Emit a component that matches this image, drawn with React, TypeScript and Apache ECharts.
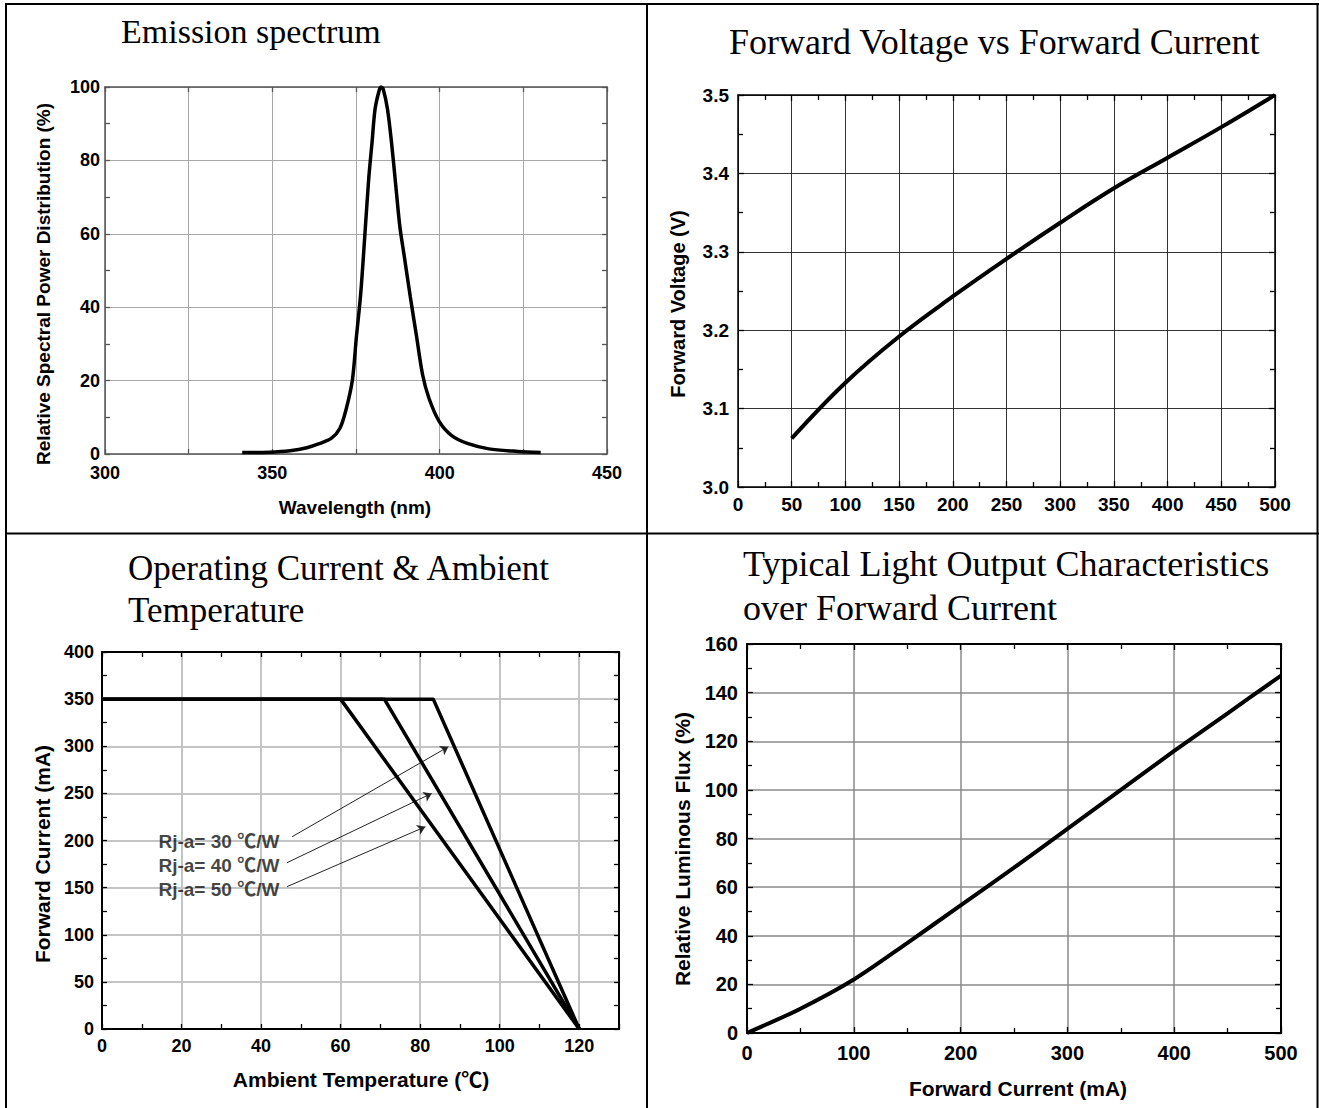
import React, { useEffect, useRef } from "react";
import * as echarts from "echarts";

const SANS = "'Liberation Sans', Arial, 'Noto Sans CJK SC', sans-serif";
const SERIF = "'Liberation Serif', 'Times New Roman', serif";

// ---- Chart 1: Emission spectrum ----
const wavelengthNm = [341, 349.1, 355.3, 360.3, 364, 367.7, 370.2, 372, 373.9, 375.1, 376.4, 377.6, 378.8, 379.8, 380.7, 381.9, 382.5, 383.1, 384.4, 385.6, 386.9, 388.1, 389.4, 391.2, 393.1, 394.9, 396.8, 399.9, 403.6, 408.5, 414.7, 423.4, 430.2];
const relativePower = [0.4, 0.5, 0.9, 1.7, 2.8, 4.3, 7, 12, 20, 31.7, 43.6, 59, 75, 85, 94, 99, 100, 99.5, 94, 85, 73, 62, 54, 43, 32, 21.6, 15.2, 8.8, 5, 2.8, 1.4, 0.7, 0.4];

// ---- Chart 2: Forward voltage vs forward current ----
const fvCurrentMa = [50, 100, 150, 200, 250, 300, 350, 400, 450, 500];
const forwardVoltage = [3.062, 3.133, 3.192, 3.243, 3.291, 3.337, 3.381, 3.42, 3.459, 3.5];

// ---- Chart 3: Operating current & ambient temperature ----
const deratingLabels = ["Rj-a= 30 \u2103/W", "Rj-a= 40 \u2103/W", "Rj-a= 50 \u2103/W"];
const deratingKneeTemp = [83.3, 71, 60];
const deratingMaxCurrent = 350;
const deratingZeroTemp = 120;
const labelAnchors = [[14.2, 198.7], [14.2, 174], [14.2, 148.5]];
const arrowStart = [[47.8, 204], [46.5, 176.4], [46.5, 151]];
const arrowEnd = [[87.1, 299.5], [82.9, 250], [81.3, 214.6]];

// ---- Chart 4: Relative luminous flux ----
const fluxCurrentMa = [0, 50, 100, 150, 200, 250, 300, 350, 400, 450, 500];
const relativeFlux = [0, 10, 22, 37, 52.5, 68, 84, 100, 116, 131.5, 147];

type AxisCfg = {
  grid: number;
  pos: string;
  min: number;
  max: number;
  interval: number;
  minor?: number;
  labels: boolean;
  fmt?: (v: number) => string;
  labelSize?: number;
  margin?: number;
  frame: string;
  frameW: number;
  split?: { color: any; width: number };
  tickLen: number;
  minorLen?: number;
};

function axis(c: AxisCfg): any {
  const a: any = {
    type: "value",
    gridIndex: c.grid,
    position: c.pos,
    min: c.min,
    max: c.max,
    interval: c.interval,
    axisLine: { show: true, onZero: false, lineStyle: { color: c.frame, width: c.frameW } },
    axisTick: { show: true, inside: true, length: c.tickLen, lineStyle: { color: c.frame, width: 1.3 } },
    minorTick: c.minor
      ? { show: true, splitNumber: c.minor, length: c.minorLen ?? 3, lineStyle: { color: c.frame, width: 1.3 } }
      : { show: false },
    minorSplitLine: { show: false },
    splitLine: c.split ? { show: true, lineStyle: { color: c.split.color, width: c.split.width } } : { show: false },
    axisPointer: { show: false },
  };
  if (c.labels) {
    a.axisLabel = {
      show: true,
      margin: c.margin ?? 8,
      fontSize: c.labelSize ?? 18,
      fontWeight: "bold",
      fontFamily: SANS,
      color: "#000",
      hideOverlap: false,
    };
    if (c.fmt) a.axisLabel.formatter = c.fmt;
  } else {
    a.axisLabel = { show: false };
  }
  return a;
}

function pair(base: AxisCfg, mirrorPos: string): any[] {
  return [
    axis(base),
    axis({ ...base, pos: mirrorPos, labels: false, split: undefined }),
  ];
}

export default function App() {
  const ref = useRef<HTMLDivElement>(null);

  useEffect(() => {
    document.body.style.margin = "0";
    const chart = echarts.init(ref.current!, undefined, { renderer: "svg" });

    const xAxis = [
      ...pair({ grid: 0, pos: "bottom", min: 300, max: 450, interval: 25, labels: true, fmt: (v) => (v % 50 === 0 ? String(v) : ""), labelSize: 18, margin: 10, frame: "#555", frameW: 1.5, split: { color: "#a8a8a8", width: 1 }, tickLen: 5 }, "top"),
      ...pair({ grid: 1, pos: "bottom", min: 0, max: 500, interval: 50, minor: 2, labels: true, labelSize: 19, margin: 8, frame: "#000", frameW: 1.5, split: { color: "#333", width: 1 }, tickLen: 6, minorLen: 5 }, "top"),
      ...pair({ grid: 2, pos: "bottom", min: 0, max: 130, interval: 10, labels: true, fmt: (v) => (v % 20 === 0 && v <= 120 ? String(v) : ""), labelSize: 18, margin: 8, frame: "#000", frameW: 2, split: { color: ["#c4c4c4", "rgba(0,0,0,0)"], width: 2 }, tickLen: 5 }, "top"),
      ...pair({ grid: 3, pos: "bottom", min: 0, max: 500, interval: 100, minor: 2, labels: true, labelSize: 20, margin: 10, frame: "#000", frameW: 2, split: { color: "#8a8a8a", width: 1.5 }, tickLen: 6, minorLen: 5 }, "top"),
    ];
    const yAxis = [
      ...pair({ grid: 0, pos: "left", min: 0, max: 100, interval: 20, minor: 2, labels: true, labelSize: 18, margin: 5, frame: "#555", frameW: 1.5, split: { color: "#a8a8a8", width: 1 }, tickLen: 5, minorLen: 5 }, "right"),
      ...pair({ grid: 1, pos: "left", min: 3.0, max: 3.5, interval: 0.1, minor: 2, labels: true, fmt: (v) => v.toFixed(1), labelSize: 19, margin: 9, frame: "#000", frameW: 1.5, split: { color: "#333", width: 1 }, tickLen: 6, minorLen: 5 }, "right"),
      ...pair({ grid: 2, pos: "left", min: 0, max: 400, interval: 50, minor: 2, labels: true, labelSize: 18, margin: 8, frame: "#000", frameW: 2, split: { color: "#c4c4c4", width: 2 }, tickLen: 5, minorLen: 5 }, "right"),
      ...pair({ grid: 3, pos: "left", min: 0, max: 160, interval: 20, minor: 2, labels: true, labelSize: 20, margin: 9, frame: "#000", frameW: 2, split: { color: "#8a8a8a", width: 1.5 }, tickLen: 6, minorLen: 5 }, "right"),
    ];

    const deratingSeries = deratingKneeTemp.map((knee, i) => ({
      type: "line",
      name: deratingLabels[i],
      xAxisIndex: 4,
      yAxisIndex: 4,
      data: [
        [0, deratingMaxCurrent],
        [knee, deratingMaxCurrent],
        [deratingZeroTemp, 0],
      ],
      showSymbol: false,
      symbol: "none",
      lineStyle: { color: "#000", width: 3.5 },
      z: 5,
      markLine:
        i === 0
          ? {
              silent: true,
              symbol: ["none", "arrow"],
              symbolSize: 8,
              label: { show: false },
              lineStyle: { color: "#222", width: 1, type: "solid" },
              emphasis: { disabled: true },
              data: arrowStart.map((s, k) => [
                { coord: s, symbol: "none" },
                { coord: arrowEnd[k], symbol: "arrow", symbolSize: 8 },
              ]),
            }
          : undefined,
    }));

    const option: any = {
      animation: false,
      backgroundColor: "#fff",
      grid: [
        { left: 105, top: 87, width: 502, height: 367, outerBoundsMode: "none" },
        { left: 738, top: 95, width: 537, height: 392, outerBoundsMode: "none" },
        { left: 102, top: 652, width: 517, height: 377, outerBoundsMode: "none" },
        { left: 747, top: 644, width: 534, height: 389, outerBoundsMode: "none" },
      ],
      xAxis,
      yAxis,
      series: [
        {
          type: "line",
          name: "spectrum",
          xAxisIndex: 0,
          yAxisIndex: 0,
          data: wavelengthNm.map((w, i) => [w, relativePower[i]]),
          smooth: 0.3,
          showSymbol: false,
          symbol: "none",
          lineStyle: { color: "#000", width: 3.5 },
          z: 5,
        },
        {
          type: "line",
          name: "vf",
          xAxisIndex: 2,
          yAxisIndex: 2,
          data: fvCurrentMa.map((c, i) => [c, forwardVoltage[i]]),
          smooth: 0.4,
          showSymbol: false,
          symbol: "none",
          lineStyle: { color: "#000", width: 4 },
          z: 5,
        },
        ...deratingSeries,
        {
          type: "scatter",
          name: "labels",
          xAxisIndex: 4,
          yAxisIndex: 4,
          data: labelAnchors,
          symbolSize: 0,
          silent: true,
          label: {
            show: true,
            position: "right",
            distance: 0,
            formatter: (p: any) => deratingLabels[p.dataIndex],
            fontSize: 19,
            fontWeight: "bold",
            fontFamily: SANS,
            color: "#111",
          },
          z: 6,
        },
        {
          type: "line",
          name: "flux",
          xAxisIndex: 6,
          yAxisIndex: 6,
          data: fluxCurrentMa.map((c, i) => [c, relativeFlux[i]]),
          smooth: 0.3,
          showSymbol: false,
          symbol: "none",
          lineStyle: { color: "#000", width: 4 },
          z: 5,
        },
      ],
      graphic: [
        // panel borders
        { type: "line", shape: { x1: 6, y1: 3, x2: 6, y2: 1108 }, style: { stroke: "#000", lineWidth: 2 } },
        { type: "line", shape: { x1: 5, y1: 4, x2: 1319, y2: 4 }, style: { stroke: "#000", lineWidth: 2 } },
        { type: "line", shape: { x1: 1317.5, y1: 3, x2: 1317.5, y2: 1108 }, style: { stroke: "#000", lineWidth: 2 } },
        { type: "line", shape: { x1: 647, y1: 3, x2: 647, y2: 1108 }, style: { stroke: "#000", lineWidth: 2 } },
        { type: "line", shape: { x1: 5, y1: 533.5, x2: 1319, y2: 533.5 }, style: { stroke: "#000", lineWidth: 2 } },
        // titles
        { type: "text", x: 121, y: 31, style: { text: "Emission spectrum", fontSize: 34, fontFamily: SERIF, fill: "#000", verticalAlign: "middle" } },
        { type: "text", x: 729, y: 42, style: { text: "Forward Voltage vs Forward Current", fontSize: 36, fontFamily: SERIF, fill: "#000", verticalAlign: "middle" } },
        { type: "text", x: 128, y: 568, style: { text: "Operating Current & Ambient", fontSize: 35, fontFamily: SERIF, fill: "#000", verticalAlign: "middle" } },
        { type: "text", x: 128, y: 610, style: { text: "Temperature", fontSize: 35, fontFamily: SERIF, fill: "#000", verticalAlign: "middle" } },
        { type: "text", x: 743, y: 564, style: { text: "Typical Light Output Characteristics", fontSize: 36, fontFamily: SERIF, fill: "#000", verticalAlign: "middle" } },
        { type: "text", x: 743, y: 608, style: { text: "over Forward Current", fontSize: 36, fontFamily: SERIF, fill: "#000", verticalAlign: "middle" } },
        // axis names
        { type: "text", x: 43, y: 284, rotation: Math.PI / 2, style: { text: "Relative Spectral Power Distribution (%)", fontSize: 19, fontWeight: "bold", fontFamily: SANS, fill: "#000", align: "center", verticalAlign: "middle" } },
        { type: "text", x: 355, y: 507, style: { text: "Wavelength (nm)", fontSize: 19, fontWeight: "bold", fontFamily: SANS, fill: "#000", align: "center", verticalAlign: "middle" } },
        { type: "text", x: 678, y: 304, rotation: Math.PI / 2, style: { text: "Forward Voltage (V)", fontSize: 20, fontWeight: "bold", fontFamily: SANS, fill: "#000", align: "center", verticalAlign: "middle" } },
        { type: "text", x: 42, y: 854, rotation: Math.PI / 2, style: { text: "Forward Current (mA)", fontSize: 21, fontWeight: "bold", fontFamily: SANS, fill: "#000", align: "center", verticalAlign: "middle" } },
        { type: "text", x: 361, y: 1079, style: { text: "Ambient Temperature (\u2103)", fontSize: 21, fontWeight: "bold", fontFamily: SANS, fill: "#000", align: "center", verticalAlign: "middle" } },
        { type: "text", x: 682, y: 849, rotation: Math.PI / 2, style: { text: "Relative Luminous Flux (%)", fontSize: 21, fontWeight: "bold", fontFamily: SANS, fill: "#000", align: "center", verticalAlign: "middle" } },
        { type: "text", x: 1018, y: 1088, style: { text: "Forward Current (mA)", fontSize: 21, fontWeight: "bold", fontFamily: SANS, fill: "#000", align: "center", verticalAlign: "middle" } },
      ],
    };

    chart.setOption(option);
    return () => chart.dispose();
  }, []);

  return (
    <div
      ref={ref}
      style={{ position: "absolute", left: 0, top: 0, width: 1319, height: 1108, background: "#fff" }}
    />
  );
}
